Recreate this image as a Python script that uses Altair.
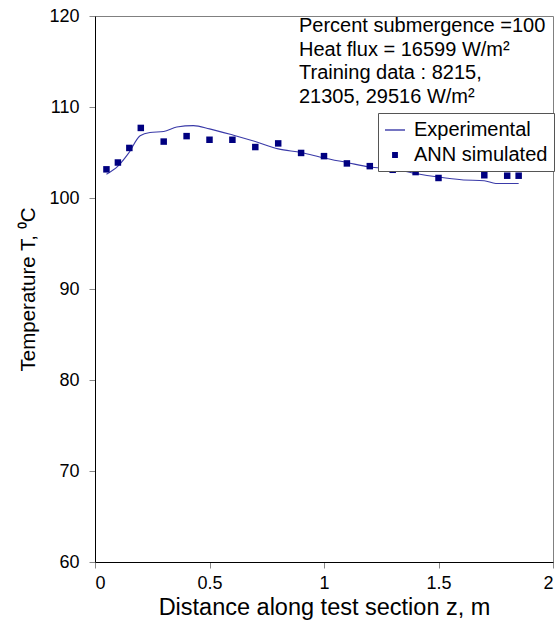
import altair as alt
import pandas as pd

# Experimental curve
exp_z = [0.05, 0.10, 0.146, 0.197, 0.24, 0.30, 0.357, 0.43, 0.50, 0.605, 0.70, 0.80,
         0.90, 1.00, 1.10, 1.20, 1.30, 1.40, 1.50, 1.60, 1.70, 1.75, 1.85]
exp_T = [102.6, 103.5, 104.9, 106.85, 107.2, 107.3, 107.8, 107.95, 107.6, 106.9, 106.2, 105.4,
         105.0, 104.4, 103.9, 103.4, 103.2, 102.7, 102.3, 102.0, 101.9, 101.6, 101.6]

# ANN simulated points
ann_z = [0.05, 0.10, 0.15, 0.20, 0.30, 0.40, 0.50, 0.60, 0.70, 0.80, 0.90, 1.00,
         1.10, 1.20, 1.30, 1.40, 1.50, 1.70, 1.80, 1.85]
ann_T = [103.15, 103.9, 105.5, 107.7, 106.2, 106.8, 106.4, 106.4, 105.6, 106.0, 104.95, 104.6,
         103.8, 103.5, 103.1, 102.85, 102.2, 102.5, 102.45, 102.45]

series = ["Experimental", "ANN simulated"]
x_ticks = [0, 0.5, 1, 1.5, 2]
y_ticks = [60, 70, 80, 90, 100, 110, 120]

note = "Percent submergence =100\nHeat flux = 16599 W/m²\nTraining data : 8215,\n21305, 29516 W/m²"

exp_df = pd.DataFrame({"z": exp_z, "T": exp_T, "series": series[0]})
ann_df = pd.DataFrame({"z": ann_z, "T": ann_T, "series": series[1]})

FONT = "Liberation Sans"

xs = alt.X("z:Q", scale=alt.Scale(domain=[0, 2], nice=False),
           axis=alt.Axis(values=x_ticks, title="Distance along test section z, m",
                         format="~g", grid=False, labelPadding=6, titlePadding=3,
                         titleFontSize=23.5))
ys = alt.Y("T:Q", scale=alt.Scale(domain=[60, 120], nice=False, zero=False),
           axis=alt.Axis(values=y_ticks, title="Temperature T, ⁰C", grid=False,
                         labelPadding=10, titlePadding=10, titleFontSize=20.5))

color = alt.Color("series:N", scale=alt.Scale(domain=series, range=["#3a3aa8", "#000080"]),
                  legend=alt.Legend(title=None, orient="none", legendX=283, legendY=97,
                                    strokeColor="#555555", padding=6, fillColor="white",
                                    labelFont=FONT, labelFontSize=20, labelColor="black",
                                    symbolSize=400, symbolStrokeWidth=1.4,
                                    symbolStrokeColor="#1a1a90", rowPadding=4,
                                    labelOffset=8))
shape = alt.Shape("series:N", scale=alt.Scale(
    domain=series, range=["M-1,0H1", "M-0.22,-0.22H0.22V0.22H-0.22Z"]))

line = alt.Chart(exp_df).mark_line(interpolate="monotone", strokeWidth=1.1).encode(
    x=xs, y=ys, color=color)
pts = alt.Chart(ann_df).mark_point(filled=True, size=870, opacity=1).encode(
    x=xs, y=ys, color=color, shape=shape)

txt = alt.Chart(pd.DataFrame({"t": [note]})).mark_text(
    align="left", baseline="top", lineBreak="\n", lineHeight=23.5,
    font=FONT, fontSize=20, color="black").encode(
    x=alt.value(204), y=alt.value(0), text="t:N")

chart = alt.layer(line, pts, txt).properties(
    width=458, height=546,
    autosize=alt.AutoSizeParams(type="none"),
    padding={"left": 95, "top": 16, "right": 7, "bottom": 67},
).configure_view(stroke="#808080", strokeWidth=1).configure_axis(
    labelFont=FONT, labelFontSize=18, labelColor="black",
    titleFont=FONT, titleFontWeight="normal", titleColor="black",
    domainColor="black", tickColor="#888888", tickSize=6,
)

chart.save("out.html", embed_options={"renderer": "svg", "actions": False})
